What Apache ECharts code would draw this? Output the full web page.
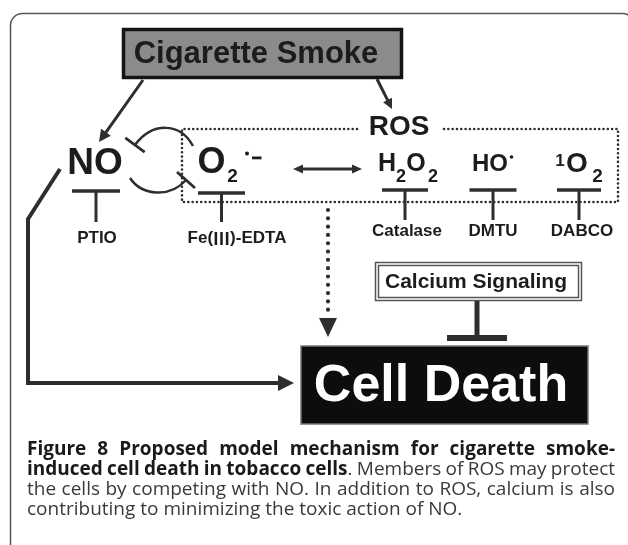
<!DOCTYPE html>
<html>
<head>
<meta charset="utf-8">
<script src="https://cdn.jsdelivr.net/npm/echarts@6/dist/echarts.min.js"></script>
<style>
  html, body { margin: 0; padding: 0; background: #fff; }
  #main { width: 628px; height: 545px; }
</style>
</head>
<body>
<div id="main"></div>
<script>
// diagram content
const SOURCE = 'Cigarette Smoke';
const GROUP = 'ROS';
const MODULATOR = 'Calcium Signaling';
const OUTCOME = 'Cell Death';
const INHIBITORS = ['PTIO', 'Fe(Ⅲ)-EDTA', 'Catalase', 'DMTU', 'DABCO'];
// caption lines: [text, bold] pieces, last line not justified
const CAPTION = [
  [['Figure 8 Proposed model mechanism for cigarette smoke-', true]],
  [['induced cell death in tobacco cells', true], ['. Members of ROS may protect', false]],
  [['the cells by competing with NO. In addition to ROS, calcium is also', false]],
  [['contributing to minimizing the toxic action of NO.', false]]
];

const INK = '#2e2e2e';
const TXT = '#1c1c1c';
const SANS = '"Liberation Sans", Arial, "Noto Sans CJK SC", sans-serif';
const CJK = '"Noto Sans CJK SC", sans-serif';
const CAPFONT = '"Open Sans", sans-serif';

const els = [];
const add = e => { e.silent = true; els.push(e); return e; };

// y is the visual centre of capitals
function txt(s, x, y, size, opt = {}) {
  const font = `${opt.weight || 'bold'} ${size}px ${opt.family || SANS}`;
  const al = opt.align || 'center', va = 'middle';
  const dy = opt.dy != null ? opt.dy : size * 0.01;
  const style = {
    text: s, x, y: y + dy, font, fill: opt.fill || TXT,
    textAlign: al, align: al, textVerticalAlign: va, verticalAlign: va
  };
  // roman numerals drawn with the CJK face, as in the source figure
  if (/[Ⅰ-Ⅻ]/.test(s)) {
    style.text = s.replace(/([^Ⅰ-Ⅻ]+)/g, '{a|$1}').replace(/([Ⅰ-Ⅻ])/g, '{b|$1}');
    style.rich = {
      a: { font, fill: style.fill },
      b: { font: `bold ${size}px ${CJK}`, fill: style.fill }
    };
  }
  add({ type: 'text', z: opt.z || 10, style });
}
function seg(x1, y1, x2, y2, w, opt = {}) {
  add({ type: 'line', z: opt.z || 5, shape: { x1, y1, x2, y2 },
    style: { stroke: opt.stroke || INK, lineWidth: w, lineCap: opt.cap || 'butt', lineDash: opt.dash || null } });
}
function head(x1, y1, x2, y2, len, half) {
  const L = Math.hypot(x2 - x1, y2 - y1), ux = (x2 - x1) / L, uy = (y2 - y1) / L;
  const bx = x2 - ux * len, by = y2 - uy * len;
  add({ type: 'polygon', z: 6, shape: { points: [[x2, y2], [bx - uy * half, by + ux * half], [bx + uy * half, by - ux * half]] },
    style: { fill: INK } });
  return [bx + ux, by + uy];
}
function arrow(x1, y1, x2, y2, w, len, half) {
  const b = head(x1, y1, x2, y2, len, half);
  seg(x1, y1, b[0], b[1], w);
}
// T-bar on a curve end: end point + incoming direction
function bluntEnd(px, py, dx, dy, half, w) {
  const L = Math.hypot(dx, dy), nx = -dy / L, ny = dx / L;
  seg(px - nx * half, py - ny * half, px + nx * half, py + ny * half, w);
}
function tbar(x, y, half, stemEnd) {
  seg(x - half, y, x + half, y, 3.6);
  seg(x, y, x, stemEnd, 3);
}

// outer frame
add({ type: 'rect', z: 1, shape: { x: 10.5, y: 13.5, width: 624, height: 560, r: 12 },
  style: { fill: 'none', stroke: '#555', lineWidth: 1.5 } });

// source box
add({ type: 'rect', z: 2, shape: { x: 123.5, y: 29.5, width: 278, height: 48 },
  style: { fill: '#8b8b8b', stroke: '#141414', lineWidth: 3.5 } });
txt(SOURCE, 256, 54, 31);
arrow(143, 80, 99, 142, 3, 12, 6);
arrow(377, 79, 392, 109, 3, 10, 5);

// ROS dotted box
add({ type: 'polyline', z: 3, shape: { points: [[357, 129], [182, 129], [182, 202], [618, 202], [618, 129], [442, 129]] },
  style: { stroke: INK, lineWidth: 2.6, lineDash: [0.01, 4.3], lineCap: 'round', fill: 'none' } });
txt(GROUP, 399, 127.5, 28);

// species
txt('NO', 95, 163.5, 37);
txt('O', 211.5, 162.5, 36);
txt('2', 232.5, 176.5, 19);
add({ type: 'circle', z: 10, shape: { cx: 247, cy: 153.5, r: 2 }, style: { fill: TXT } });
add({ type: 'rect', z: 10, shape: { x: 252, y: 156.5, width: 9.5, height: 2.8 }, style: { fill: TXT } });

txt('H', 387, 164, 25);
txt('2', 401, 176.5, 18);
txt('O', 416, 164, 25);
txt('2', 433, 176.5, 18);

txt('HO', 490, 164, 24);
add({ type: 'circle', z: 10, shape: { cx: 511.5, cy: 157, r: 1.8 }, style: { fill: TXT } });

txt('1', 560, 161, 17);
txt('O', 577, 164, 28);
txt('2', 597.5, 176.5, 19);

// inhibitor bars and labels
tbar(96, 191, 24, 222);
tbar(221.5, 193, 23.5, 222);
tbar(405, 190, 23, 220);
tbar(493, 190, 23.5, 220);
tbar(579, 190, 22, 220);
txt(INHIBITORS[0], 97, 238, 17);
txt(INHIBITORS[1], 237, 238, 17);
txt(INHIBITORS[2], 407, 231, 17);
txt(INHIBITORS[3], 493, 231, 17);
txt(INHIBITORS[4], 582, 231, 17);

// mutual inhibition NO <-> O2
add({ type: 'bezierCurve', z: 5, shape: { x1: 193, y1: 146, cpx1: 180, cpy1: 122, cpx2: 152, cpy2: 122, x2: 135, y2: 145 },
  style: { stroke: INK, lineWidth: 2.5, fill: 'none' } });
bluntEnd(135, 145, -17, 23, 12, 2.8);
add({ type: 'bezierCurve', z: 5, shape: { x1: 130, y1: 178, cpx1: 142, cpy1: 196, cpx2: 170, cpy2: 198, x2: 186, y2: 180 },
  style: { stroke: INK, lineWidth: 2.5, fill: 'none' } });
bluntEnd(186, 180, 16, -18, 12, 2.8);

// double arrow O2 <-> ROS
seg(301, 169, 354, 169, 3);
head(330, 169, 362, 169, 10, 4.5);
head(330, 169, 293, 169, 10, 4.5);

// dotted arrow ROS -> cell death
seg(328, 210, 328, 310, 4.2, { dash: [0.01, 8.3], cap: 'round' });
add({ type: 'polygon', z: 6, shape: { points: [[319, 318], [337, 318], [328, 337]] }, style: { fill: INK } });

// calcium signaling
add({ type: 'rect', z: 2, shape: { x: 375.5, y: 262.5, width: 206, height: 38 },
  style: { fill: '#fff', stroke: '#555', lineWidth: 1.5 } });
add({ type: 'rect', z: 2, shape: { x: 378.5, y: 265.5, width: 200, height: 32 },
  style: { fill: '#fff', stroke: '#555', lineWidth: 1.5 } });
txt(MODULATOR, 476, 282, 21);
seg(477, 301, 477, 336, 5);
seg(447, 338, 507, 338, 6);

// cell death
add({ type: 'rect', z: 2, shape: { x: 301, y: 346, width: 287, height: 78 },
  style: { fill: '#0d0d0d', stroke: '#777', lineWidth: 1.5 } });
txt(OUTCOME, 441, 386, 52, { fill: '#fff' });

// NO -> cell death
add({ type: 'polyline', z: 5, shape: { points: [[60, 169], [28, 219], [28, 383], [279, 383]] },
  style: { stroke: INK, lineWidth: 4, fill: 'none', lineJoin: 'miter' } });
head(200, 383, 294, 383, 16, 8);

// caption, justified like the source
const ctx = document.createElement('canvas').getContext('2d');
const CAP_SIZE = 19, CAP_LEFT = 27, CAP_RIGHT = 615;
const capFont = b => `${b ? 'bold' : 'normal'} ${CAP_SIZE}px ${CAPFONT}`;
CAPTION.forEach((pieces, li) => {
  const words = [];
  pieces.forEach(([t, b]) => {
    t.split(' ').forEach((part, i) => {
      if (part === '') return;
      if (i === 0 && words.length && !t.startsWith(' ')) words[words.length - 1].push([part, b]);
      else words.push([[part, b]]);
    });
  });
  const widths = words.map(w => w.reduce((s, [p, b]) => { ctx.font = capFont(b); return s + ctx.measureText(p).width; }, 0));
  ctx.font = capFont(false);
  const space = ctx.measureText(' ').width;
  const total = widths.reduce((a, b) => a + b, 0);
  const justify = li < CAPTION.length - 1;
  const gap = justify ? (CAP_RIGHT - CAP_LEFT - total) / (words.length - 1) : space;
  // baselines at 457, 477, ...; 'middle' sits ~0.39em above the baseline
  const y = 457 - 0.388 * CAP_SIZE + li * 20;
  let x = CAP_LEFT;
  words.forEach((w, wi) => {
    let px = x;
    w.forEach(([p, b]) => {
      txt(p, px, y, CAP_SIZE, { weight: b ? 'bold' : 'normal', family: CAPFONT, align: 'left', dy: 0, fill: b ? '#1a1a1a' : '#3a3a3a' });
      ctx.font = capFont(b);
      px += ctx.measureText(p).width;
    });
    x += widths[wi] + gap;
  });
});

const chart = echarts.init(document.getElementById('main'));
chart.setOption({
  animation: false,
  backgroundColor: '#fff',
  graphic: { elements: els }
});
</script>
</body>
</html>
